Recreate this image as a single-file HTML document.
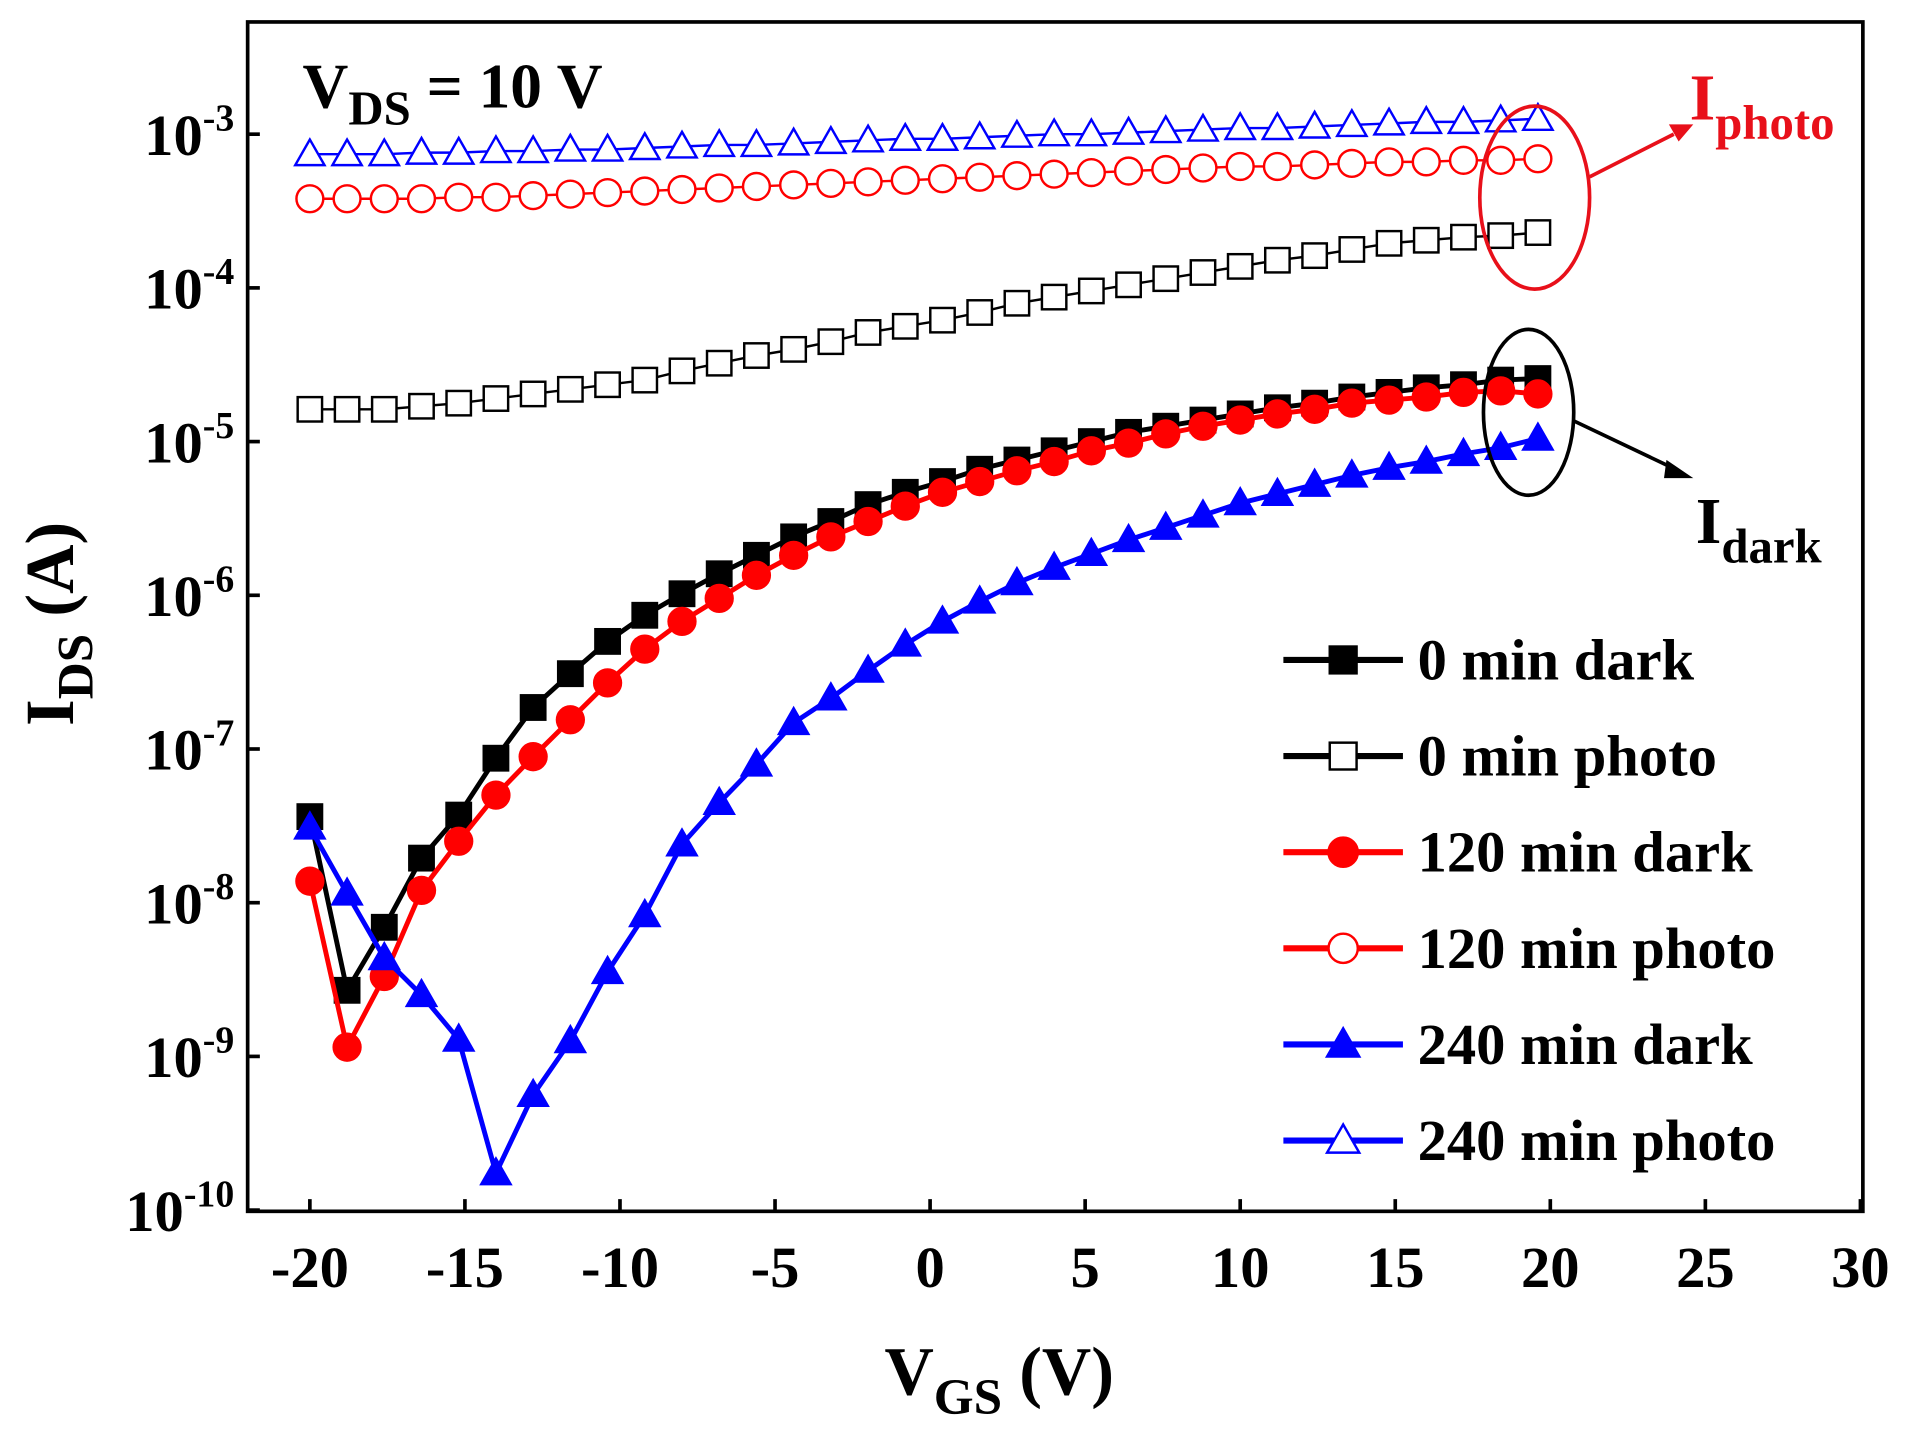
<!DOCTYPE html>
<html><head><meta charset="utf-8"><style>
html,body{margin:0;padding:0;background:#fff;}
svg{display:block;}
text{font-family:"Liberation Serif",serif;font-weight:bold;}
</style></head><body>
<svg id="chart" width="1908" height="1437" viewBox="0 0 1564 1178" preserveAspectRatio="none" xmlns="http://www.w3.org/2000/svg">
<rect x="203" y="18" width="1324" height="975" fill="#fff" stroke="#000" stroke-width="3"/>
<g id="axes"></g>
<g id="series"></g>
<text x="248" y="88" font-size="52">V<tspan font-size="40" dy="14">DS</tspan><tspan dy="-14"> = 10 V</tspan></text>
<text x="725" y="1143" font-size="56">V<tspan font-size="42" dy="16">GS</tspan><tspan dy="-16"> (V)</tspan></text>
<text transform="translate(60,595) rotate(-90)" font-size="56">I<tspan font-size="42" dy="16">DS</tspan><tspan dy="-16"> (A)</tspan></text>
<ellipse cx="1258" cy="162" rx="45" ry="75" fill="none" stroke="#e8101a" stroke-width="3"/>
<line x1="1303" y1="145" x2="1372" y2="110" stroke="#e8101a" stroke-width="3"/>
<polygon points="1388,102 1368,102 1376,116" fill="#e8101a"/>
<text x="1385" y="98" font-size="54" fill="#e8101a">I<tspan font-size="40" dy="16">photo</tspan></text>
<ellipse cx="1253" cy="338" rx="37" ry="68" fill="none" stroke="#000" stroke-width="3"/>
<line x1="1290" y1="345" x2="1372" y2="384" stroke="#000" stroke-width="3"/>
<polygon points="1388,392 1366,377 1364,392" fill="#000"/>
<text x="1390" y="445" font-size="54">I<tspan font-size="40" dy="16">dark</tspan></text>
<g id="legend"></g>
</svg>
<script>
const vgs = [];
for (let i = 0; i < 34; i++) vgs.push(+(-20 + 1.2 * i).toFixed(1));
const xTicks = [-20, -15, -10, -5, 0, 5, 10, 15, 20, 25, 30];
const yTickExps = [-3, -4, -5, -6, -7, -8, -9, -10];
const dark0 = [-7.44,-8.57,-8.16,-7.71,-7.43,-7.06,-6.73,-6.51,-6.30,-6.13,-5.99,-5.86,-5.74,-5.62,-5.52,-5.41,-5.33,-5.26,-5.18,-5.12,-5.06,-5.00,-4.94,-4.90,-4.86,-4.82,-4.78,-4.75,-4.71,-4.68,-4.65,-4.63,-4.60,-4.59];
const photo0 = [-4.79,-4.79,-4.79,-4.77,-4.75,-4.72,-4.69,-4.66,-4.63,-4.60,-4.54,-4.49,-4.44,-4.40,-4.35,-4.29,-4.25,-4.21,-4.16,-4.10,-4.06,-4.02,-3.98,-3.94,-3.90,-3.86,-3.82,-3.79,-3.75,-3.71,-3.69,-3.67,-3.66,-3.64];
const dark120 = [-7.86,-8.94,-8.48,-7.92,-7.60,-7.30,-7.05,-6.81,-6.57,-6.35,-6.17,-6.02,-5.87,-5.74,-5.62,-5.52,-5.42,-5.33,-5.26,-5.19,-5.13,-5.06,-5.01,-4.95,-4.90,-4.86,-4.82,-4.79,-4.75,-4.73,-4.71,-4.68,-4.67,-4.69];
const photo120 = [-3.42,-3.42,-3.42,-3.42,-3.41,-3.41,-3.40,-3.39,-3.38,-3.37,-3.36,-3.35,-3.34,-3.33,-3.32,-3.31,-3.30,-3.29,-3.28,-3.27,-3.26,-3.25,-3.24,-3.23,-3.22,-3.21,-3.21,-3.20,-3.19,-3.18,-3.18,-3.17,-3.17,-3.16];
const dark240 = [-7.51,-7.94,-8.36,-8.60,-8.89,-9.76,-9.25,-8.90,-8.45,-8.08,-7.62,-7.35,-7.10,-6.83,-6.67,-6.49,-6.32,-6.17,-6.04,-5.92,-5.82,-5.73,-5.64,-5.56,-5.48,-5.40,-5.34,-5.28,-5.22,-5.17,-5.13,-5.08,-5.04,-4.98];
const photo240 = [-3.13,-3.13,-3.13,-3.12,-3.12,-3.11,-3.11,-3.10,-3.10,-3.09,-3.08,-3.07,-3.07,-3.06,-3.05,-3.04,-3.03,-3.03,-3.02,-3.01,-3.00,-3.00,-2.99,-2.98,-2.97,-2.96,-2.96,-2.95,-2.94,-2.93,-2.92,-2.92,-2.91,-2.90];

const NS = "http://www.w3.org/2000/svg";
const X = v => 254 + (v + 20) * (1271 / 50);
const Y = e => 110 + (-3 - e) * 126;
function mk(tag, attrs, parent) {
  const el = document.createElementNS(NS, tag);
  for (const k in attrs) el.setAttribute(k, attrs[k]);
  parent.appendChild(el);
  return el;
}
const axes = document.getElementById('axes');
xTicks.forEach(t => {
  const tk = mk('line', {x1: X(t), x2: X(t), y1: 993, y2: 983, stroke: '#000', 'stroke-width': 3}, axes);
  
  
  const lb = mk('text', {x: X(t), y: 1055, 'font-size': 48, 'text-anchor': 'middle'}, axes);
  lb.textContent = t;
  
  
});
yTickExps.forEach(e => {
  const tk = mk('line', {x1: 203, x2: 213, y1: Y(e), y2: Y(e), stroke: '#000', 'stroke-width': 3}, axes);
  
  
  const lb = mk('text', {x: 192, y: Y(e) + 17, 'font-size': 48, 'text-anchor': 'end'}, axes);
  
  
  const a = mk('tspan', {}, lb); a.textContent = '10';
  const b = mk('tspan', {'font-size': 31, dy: -20}, lb); b.textContent = e;
});
function marker(g, type, filled, color, cx, cy, s) {
  const fill = filled ? color : '#fff';
  let el;
  if (type === 'square') el = mk('rect', {x: cx - s/2, y: cy - s/2, width: s, height: s, fill, stroke: color, 'stroke-width': 2}, g);
  else if (type === 'circle') el = mk('circle', {cx, cy, r: s/2 + 1, fill, stroke: color, 'stroke-width': 2}, g);
  else el = mk('polygon', {points: `${cx},${cy - s*0.6} ${cx - s*0.6},${cy + s*0.45} ${cx + s*0.6},${cy + s*0.45}`, fill, stroke: color, 'stroke-width': 2}, g);
  return el;
}
const seriesDefs = [
  {name: '0-min-dark', data: dark0, color: '#000', type: 'square', filled: true, lw: 4, label: '0 min dark'},
  {name: '0-min-photo', data: photo0, color: '#000', type: 'square', filled: false, lw: 2, label: '0 min photo'},
  {name: '120-min-dark', data: dark120, color: '#f00', type: 'circle', filled: true, lw: 4, label: '120 min dark'},
  {name: '120-min-photo', data: photo120, color: '#f00', type: 'circle', filled: false, lw: 2, label: '120 min photo'},
  {name: '240-min-dark', data: dark240, color: '#0000ff', type: 'triangle', filled: true, lw: 4, label: '240 min dark'},
  {name: '240-min-photo', data: photo240, color: '#0000ff', type: 'triangle', filled: false, lw: 2, label: '240 min photo'}
];
const sg = document.getElementById('series');
seriesDefs.forEach(s => {
  const g = mk('g', {}, sg);
  
  
  const pts = s.data.map((e, i) => X(vgs[i]) + ',' + Y(e)).join(' ');
  const pl = mk('polyline', {points: pts, fill: 'none', stroke: s.color, 'stroke-width': s.lw}, g);
  
  
  s.data.forEach((e, i) => {
    const m = marker(g, s.type, s.filled, s.color, X(vgs[i]), Y(e), 20);
    
    
  });
});
const lg = document.getElementById('legend');


seriesDefs.forEach((s, i) => {
  const y = 541 + i * 78.8;
  const g = mk('g', {}, lg);
  
  
  mk('line', {x1: 1052, x2: 1150, y1: y, y2: y, stroke: s.color, 'stroke-width': 5}, g);
  marker(g, s.type, s.filled, s.color, 1101, y, 22);
  const t = mk('text', {x: 1162, y: y + 16, 'font-size': 48}, g);
  t.textContent = s.label;
});
</script>
</body></html>
